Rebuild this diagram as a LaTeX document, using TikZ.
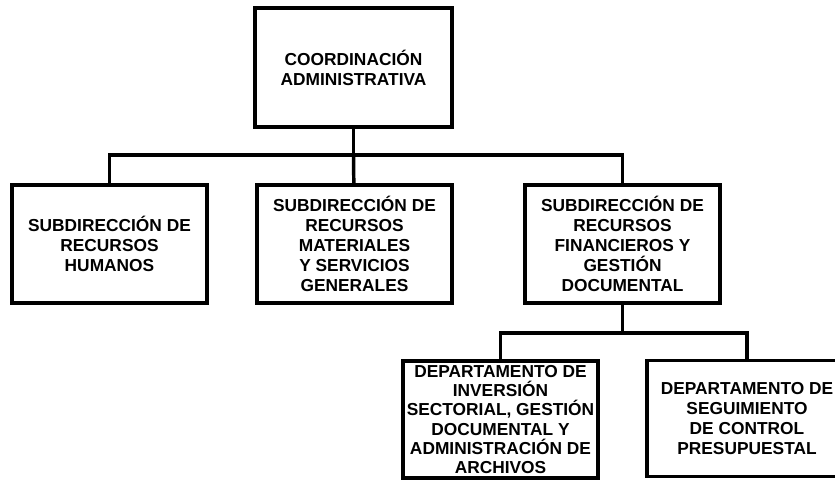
\documentclass[tikz,border=0pt]{standalone}
\usepackage{fontspec}
\setmainfont{Liberation Sans}
\usetikzlibrary{positioning}

\begin{document}
\begin{tikzpicture}[x=0.75pt,y=-0.75pt]
\tikzstyle{caja} = [rectangle, draw=black, line width=2.6pt, fill=white,
align=center, minimum width=146pt, minimum height=88.5pt, inner sep=1pt,
font=\bfseries\fontsize{13}{15}\selectfont]
\tikzstyle{line} = [draw, line width=2.6pt];
\useasboundingbox (0,0) rectangle (835,479);
\clip (0,0) rectangle (835,479);
% nivel 1
\node [caja, minimum width=148pt, minimum height=89pt] (coord) at (353.5,67.5)
  {COORDINACIÓN\\ADMINISTRATIVA};
% nivel 2
\node [caja] (subrh) at (109.5,244) {SUBDIRECCIÓN DE\\RECURSOS\\HUMANOS};
\node [caja] (subrm) at (354.5,244)
  {SUBDIRECCIÓN DE\\RECURSOS\\MATERIALES\\Y SERVICIOS\\GENERALES};
\node [caja] (subrf) at (622.5,244)
  {SUBDIRECCIÓN DE\\RECURSOS\\FINANCIEROS Y\\GESTIÓN\\DOCUMENTAL};
% nivel 3
\node [caja, minimum height=88pt, font=\bfseries\fontsize{13}{14.4}\selectfont] (depis) at (500.5,419.5)
  {DEPARTAMENTO DE\\INVERSIÓN\\SECTORIAL, GESTIÓN\\DOCUMENTAL Y\\ADMINISTRACIÓN DE\\ARCHIVOS};
\node [caja, minimum width=150pt, minimum height=87pt] (depcp) at (747,418.5)
  {DEPARTAMENTO DE\\SEGUIMIENTO\\DE CONTROL\\PRESUPUESTAL};
\coordinate (bus1) at (353.5,155);
\coordinate (bus2) at (622.5,333);
\tikzstyle{every path}=[line]
\path (coord) -- (bus1);
\path (bus1) -| (subrh);
\path (bus1) -- (subrm);
\path (bus1) -| (subrf);
\path (subrf) -- (bus2);
\path (bus2) -| (depis);
\path (bus2) -| (depcp);
\end{tikzpicture}
\end{document}
